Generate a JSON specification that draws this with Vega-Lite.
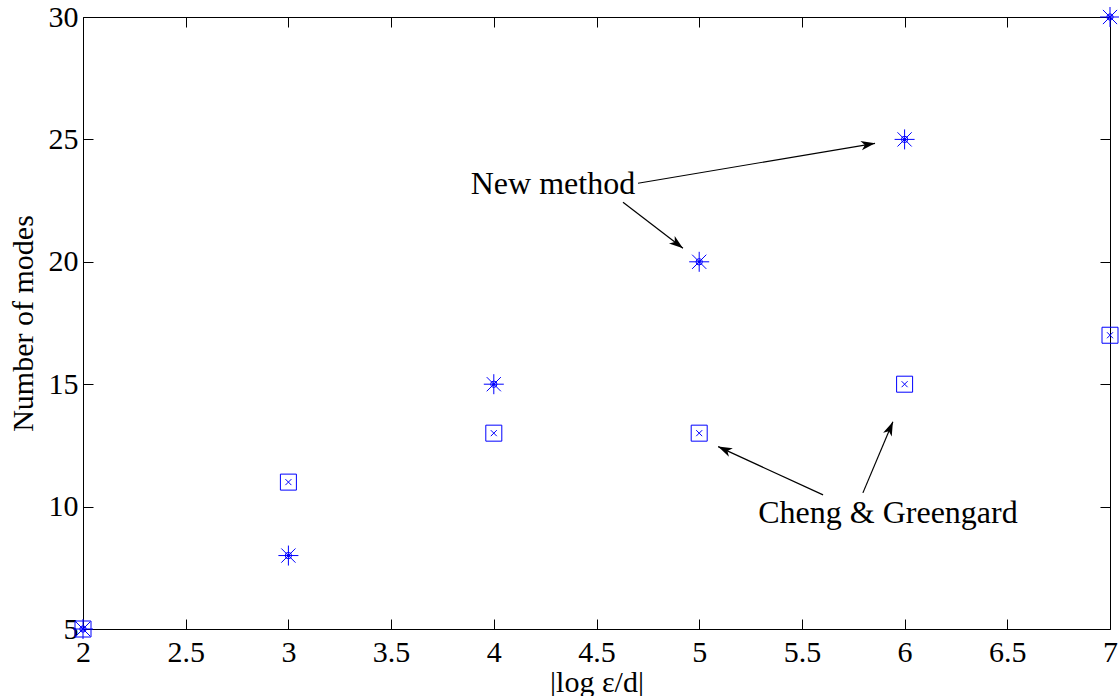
{
  "$schema": "https://vega.github.io/schema/vega-lite/v6.json",
  "width": 1027,
  "height": 612,
  "autosize": {"type": "none"},
  "padding": {"left": 83, "top": 17, "right": 9, "bottom": 67},
  "background": "white",
  "config": {
    "view": {"stroke": null},
    "font": "Liberation Serif",
    "axis": {
      "grid": false,
      "domainColor": "black",
      "domainWidth": 1,
      "tickColor": "black",
      "tickWidth": 1,
      "tickSize": -10,
      "labelFont": "Liberation Serif",
      "labelFontSize": 30,
      "labelColor": "black",
      "labelBound": false,
      "titleFont": "Liberation Serif",
      "titleFontSize": 30,
      "titleFontWeight": "normal",
      "titleColor": "black"
    }
  },
  "datasets": {
    "pts": [
      {"method": "New method", "eps": 2, "modes": 5},
      {"method": "New method", "eps": 3, "modes": 8},
      {"method": "New method", "eps": 4, "modes": 15},
      {"method": "New method", "eps": 5, "modes": 20},
      {"method": "New method", "eps": 6, "modes": 25},
      {"method": "New method", "eps": 7, "modes": 30},
      {"method": "Cheng & Greengard", "eps": 2, "modes": 5},
      {"method": "Cheng & Greengard", "eps": 3, "modes": 11},
      {"method": "Cheng & Greengard", "eps": 4, "modes": 13},
      {"method": "Cheng & Greengard", "eps": 5, "modes": 13},
      {"method": "Cheng & Greengard", "eps": 6, "modes": 15},
      {"method": "Cheng & Greengard", "eps": 7, "modes": 17}
    ],
    "labels": [
      {"label": "New method", "eps": 4.288, "modes": 23.17},
      {"label": "Cheng & Greengard", "eps": 5.919, "modes": 9.75}
    ],
    "arrows": [
      {"arrow": 1, "eps": 4.702, "modes": 23.21, "eps2": 5.856, "modes2": 24.84},
      {"arrow": 2, "eps": 4.629, "modes": 22.43, "eps2": 4.921, "modes2": 20.55},
      {"arrow": 3, "eps": 5.603, "modes": 10.48, "eps2": 5.092, "modes2": 12.45},
      {"arrow": 4, "eps": 5.797, "modes": 10.56, "eps2": 5.943, "modes2": 13.47}
    ]
  },
  "resolve": {"axis": {"x": "independent", "y": "independent"}},
  "layer": [
    {
      "data": {"name": "pts"},
      "transform": [{"filter": "datum.method === 'Cheng & Greengard'"}],
      "mark": {"type": "point", "shape": "square", "filled": false, "stroke": "#0000ff", "strokeWidth": 1, "size": 256, "opacity": 1},
      "encoding": {
        "x": {"field": "eps", "type": "quantitative", "scale": {"domain": [2, 7], "nice": false, "zero": false},
          "axis": {"orient": "bottom", "values": [2, 2.5, 3, 3.5, 4, 4.5, 5, 5.5, 6, 6.5, 7], "format": "~g", "title": "|log ε/d|", "labelPadding": 18, "titlePadding": 0, "labelFlush": false, "labelOverlap": false}},
        "y": {"field": "modes", "type": "quantitative", "scale": {"domain": [5, 30], "nice": false, "zero": false},
          "axis": {"orient": "left", "values": [5, 10, 15, 20, 25, 30], "format": "d", "title": "Number of modes", "labelPadding": 15, "titlePadding": 10, "labelFlush": false, "labelOverlap": false, "labelAlign": "right", "labelBaseline": "middle"}}
      }
    },
    {
      "data": {"name": "pts"},
      "transform": [{"filter": "datum.method === 'Cheng & Greengard'"}],
      "mark": {"type": "point", "shape": "M-1,-1L1,1M-1,1L1,-1", "filled": false, "stroke": "#0000ff", "strokeWidth": 1, "size": 36, "opacity": 1},
      "encoding": {
        "x": {"field": "eps", "type": "quantitative", "scale": {"domain": [2, 7], "nice": false, "zero": false},
          "axis": {"orient": "top", "values": [2, 2.5, 3, 3.5, 4, 4.5, 5, 5.5, 6, 6.5, 7], "labels": false, "title": null}},
        "y": {"field": "modes", "type": "quantitative", "scale": {"domain": [5, 30], "nice": false, "zero": false},
          "axis": {"orient": "right", "values": [5, 10, 15, 20, 25, 30], "labels": false, "title": null}}
      }
    },
    {
      "data": {"name": "pts"},
      "transform": [{"filter": "datum.method === 'New method'"}],
      "mark": {"type": "point", "shape": "M-1,0L1,0M0,-1L0,1M-0.71,-0.71L0.71,0.71M-0.71,0.71L0.71,-0.71", "filled": false, "stroke": "#0000ff", "strokeWidth": 1, "size": 400, "opacity": 1},
      "encoding": {
        "x": {"field": "eps", "type": "quantitative", "scale": {"domain": [2, 7], "nice": false, "zero": false}, "axis": null},
        "y": {"field": "modes", "type": "quantitative", "scale": {"domain": [5, 30], "nice": false, "zero": false}, "axis": null}
      }
    },
    {
      "data": {"name": "pts"},
      "transform": [{"filter": "datum.method === 'New method'"}],
      "mark": {"type": "point", "shape": "circle", "filled": false, "stroke": "#0000ff", "strokeWidth": 1, "size": 40, "opacity": 1},
      "encoding": {
        "x": {"field": "eps", "type": "quantitative", "scale": {"domain": [2, 7], "nice": false, "zero": false}, "axis": null},
        "y": {"field": "modes", "type": "quantitative", "scale": {"domain": [5, 30], "nice": false, "zero": false}, "axis": null}
      }
    },
    {
      "data": {"name": "pts"},
      "transform": [{"filter": "datum.method === 'New method'"}],
      "mark": {"type": "point", "shape": "circle", "filled": true, "fill": "#0000ff", "size": 10, "opacity": 1},
      "encoding": {
        "x": {"field": "eps", "type": "quantitative", "scale": {"domain": [2, 7], "nice": false, "zero": false}, "axis": null},
        "y": {"field": "modes", "type": "quantitative", "scale": {"domain": [5, 30], "nice": false, "zero": false}, "axis": null}
      }
    },
    {
      "data": {"name": "labels"},
      "mark": {"type": "text", "font": "Liberation Serif", "fontSize": 32, "color": "black", "align": "center", "baseline": "middle"},
      "encoding": {
        "x": {"field": "eps", "type": "quantitative", "scale": {"domain": [2, 7], "nice": false, "zero": false}, "axis": null},
        "y": {"field": "modes", "type": "quantitative", "scale": {"domain": [5, 30], "nice": false, "zero": false}, "axis": null},
        "text": {"field": "label"}
      }
    },
    {
      "data": {"name": "arrows"},
      "mark": {"type": "rule", "color": "black", "strokeWidth": 1.2},
      "encoding": {
        "x": {"field": "eps", "type": "quantitative", "scale": {"domain": [2, 7], "nice": false, "zero": false}, "axis": null},
        "y": {"field": "modes", "type": "quantitative", "scale": {"domain": [5, 30], "nice": false, "zero": false}, "axis": null},
        "x2": {"field": "eps2"},
        "y2": {"field": "modes2"}
      }
    },
    {
      "data": {"name": "arrows"},
      "transform": [{"filter": "datum.arrow === 1"}],
      "mark": {"type": "point", "shape": "M0,0L-0.5,1.5L0,1.1L0.5,1.5Z", "filled": true, "fill": "black", "size": 350, "angle": 80.4, "opacity": 1},
      "encoding": {
        "x": {"field": "eps2", "type": "quantitative", "scale": {"domain": [2, 7], "nice": false, "zero": false}, "axis": null},
        "y": {"field": "modes2", "type": "quantitative", "scale": {"domain": [5, 30], "nice": false, "zero": false}, "axis": null}
      }
    },
    {
      "data": {"name": "arrows"},
      "transform": [{"filter": "datum.arrow === 2"}],
      "mark": {"type": "point", "shape": "M0,0L-0.5,1.5L0,1.1L0.5,1.5Z", "filled": true, "fill": "black", "size": 350, "angle": 127.5, "opacity": 1},
      "encoding": {
        "x": {"field": "eps2", "type": "quantitative", "scale": {"domain": [2, 7], "nice": false, "zero": false}, "axis": null},
        "y": {"field": "modes2", "type": "quantitative", "scale": {"domain": [5, 30], "nice": false, "zero": false}, "axis": null}
      }
    },
    {
      "data": {"name": "arrows"},
      "transform": [{"filter": "datum.arrow === 3"}],
      "mark": {"type": "point", "shape": "M0,0L-0.5,1.5L0,1.1L0.5,1.5Z", "filled": true, "fill": "black", "size": 350, "angle": 294.6, "opacity": 1},
      "encoding": {
        "x": {"field": "eps2", "type": "quantitative", "scale": {"domain": [2, 7], "nice": false, "zero": false}, "axis": null},
        "y": {"field": "modes2", "type": "quantitative", "scale": {"domain": [5, 30], "nice": false, "zero": false}, "axis": null}
      }
    },
    {
      "data": {"name": "arrows"},
      "transform": [{"filter": "datum.arrow === 4"}],
      "mark": {"type": "point", "shape": "M0,0L-0.5,1.5L0,1.1L0.5,1.5Z", "filled": true, "fill": "black", "size": 350, "angle": 22.9, "opacity": 1},
      "encoding": {
        "x": {"field": "eps2", "type": "quantitative", "scale": {"domain": [2, 7], "nice": false, "zero": false}, "axis": null},
        "y": {"field": "modes2", "type": "quantitative", "scale": {"domain": [5, 30], "nice": false, "zero": false}, "axis": null}
      }
    }
  ]
}
